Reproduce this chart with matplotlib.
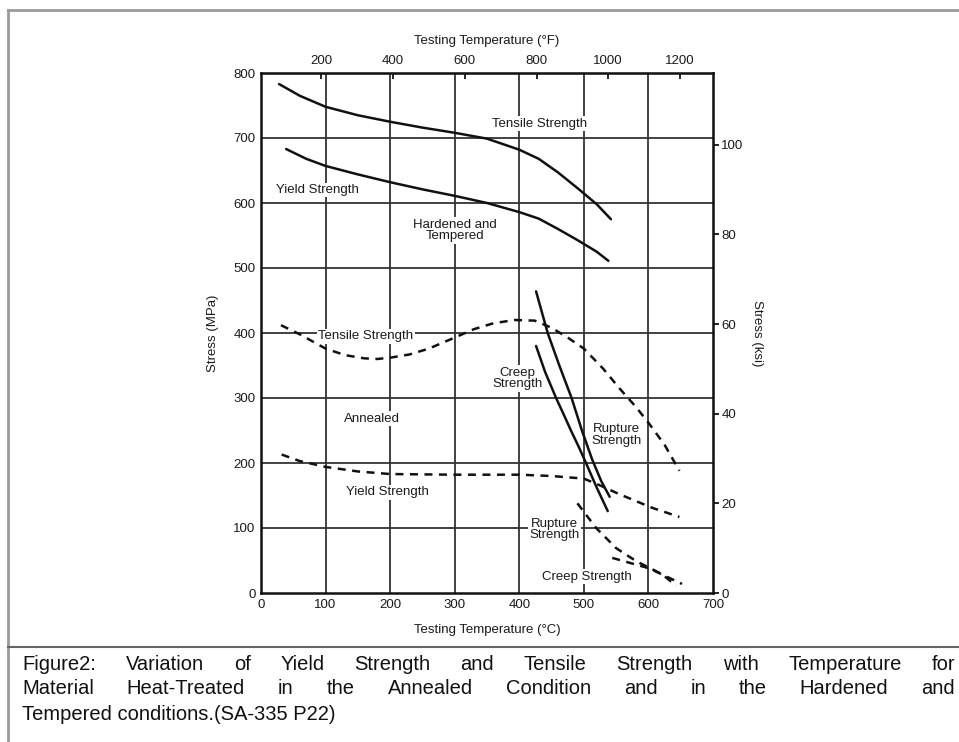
import matplotlib
matplotlib.use('Agg')
import matplotlib.pyplot as plt
from matplotlib.lines import Line2D

# Hardened and tempered (solid)
htTensileTemp = [28, 60, 100, 150, 200, 250, 300, 350, 400, 430, 460, 490, 520, 542]
htTensileStress = [783, 765, 748, 735, 725, 716, 708, 699, 682, 668, 647, 623, 598, 575]
htYieldTemp = [39, 70, 100, 150, 200, 250, 300, 350, 400, 430, 460, 490, 520, 538]
htYieldStress = [683, 668, 657, 644, 632, 621, 611, 600, 586, 576, 560, 543, 525, 511]
htRuptureTemp = [426, 435, 444, 462, 481, 497, 513, 527, 540]
htRuptureStress = [464, 432, 400, 350, 300, 250, 205, 172, 148]
htCreepTemp = [426, 440, 457, 470, 480, 492, 502, 520, 537]
htCreepStress = [380, 340, 300, 272, 250, 225, 203, 162, 126]

# Annealed (dashed)
anTensileTemp = [31, 60, 100, 130, 160, 180, 200, 230, 260, 300, 330, 360, 393, 424,
                 450, 475, 500, 530, 555, 580, 600, 625, 648]
anTensileStress = [412, 398, 376, 366, 361, 360, 362, 367, 376, 393, 406, 415, 420, 419,
                   408, 393, 376, 345, 315, 287, 262, 228, 188]
anYieldTemp = [32, 60, 100, 150, 200, 300, 400, 450, 500, 524, 555, 606, 648]
anYieldStress = [213, 203, 194, 187, 183, 182, 182, 180, 176, 166, 152, 131, 117]
anRuptureTemp = [490, 519, 550, 581, 621, 643]
anRuptureStress = [138, 100, 69, 49, 29, 11]
anCreepTemp = [544, 601, 652]
anCreepStress = [54, 38, 14]

xTicksC = [0, 100, 200, 300, 400, 500, 600, 700]
yTicksMPa = [0, 100, 200, 300, 400, 500, 600, 700, 800]
xTicksF = [200, 400, 600, 800, 1000, 1200]
yTicksKsi = [0, 20, 40, 60, 80, 100]

captionLines = ['Figure2: Variation of Yield Strength and Tensile Strength with Temperature for',
                'Material Heat-Treated in the Annealed Condition and in the Hardened and',
                'Tempered conditions.(SA-335 P22)']

W, H = 959, 742
fig = plt.figure(figsize=(W / 100, H / 100), dpi=100)
fig.patch.set_facecolor('white')

# Chart axes placed by pixel
left, right, top, bottom = 261, 713, 73, 593
ax = fig.add_axes([left / W, 1 - bottom / H, (right - left) / W, (bottom - top) / H])
ax.set_xlim(0, 700)
ax.set_ylim(0, 800)
font = 'Liberation Sans'
tickSize = 9.5
textColor = '#1a1a1a'

ax.set_xticks(xTicksC)
ax.set_yticks(yTicksMPa)
ax.tick_params(length=0, labelsize=tickSize, pad=4, labelcolor=textColor)
for lab in ax.get_xticklabels() + ax.get_yticklabels():
    lab.set_fontfamily(font)
for s in ax.spines.values():
    s.set_linewidth(1.8)
    s.set_color('#111')
for v in xTicksC[1:-1]:
    ax.axvline(v, color='#333', lw=1.3, zorder=0.5)
for v in yTicksMPa[1:-1]:
    ax.axhline(v, color='#333', lw=1.3, zorder=0.5)

ax.set_xlabel('Testing Temperature (°C)', fontsize=tickSize, fontfamily=font, labelpad=10, color=textColor)
ax.set_ylabel('Stress (MPa)', fontsize=tickSize, fontfamily=font, labelpad=10, color=textColor)

# Secondary axes
top_ax = ax.secondary_xaxis('top', functions=(lambda c: c * 9 / 5 + 32, lambda f: (f - 32) * 5 / 9))
top_ax.set_xticks(xTicksF)
top_ax.tick_params(direction='in', length=4, width=1.2, labelsize=tickSize, pad=4, labelcolor=textColor)
top_ax.set_xlabel('Testing Temperature (°F)', fontsize=tickSize, fontfamily=font, labelpad=8, color=textColor)
for lab in top_ax.get_xticklabels():
    lab.set_fontfamily(font)

right_ax = ax.secondary_yaxis('right', functions=(lambda m: m / 6.895, lambda k: k * 6.895))
right_ax.set_yticks(yTicksKsi)
right_ax.tick_params(direction='out', length=4, width=1.2, labelsize=tickSize, pad=2, labelcolor=textColor)
right_ax.set_ylabel('Stress (ksi)', fontsize=tickSize, fontfamily=font, rotation=-90, labelpad=14, color=textColor)
for lab in right_ax.get_yticklabels():
    lab.set_fontfamily(font)

# Curves
solid = dict(color='#111', lw=1.8, solid_capstyle='round', solid_joinstyle='round', zorder=3)
dashed = dict(color='#111', lw=1.8, linestyle=(0, (3.2, 2.6)), zorder=3)
ax.plot(htTensileTemp, htTensileStress, **solid)
ax.plot(htYieldTemp, htYieldStress, **solid)
ax.plot(htRuptureTemp, htRuptureStress, **solid)
ax.plot(htCreepTemp, htCreepStress, **solid)
ax.plot(anTensileTemp, anTensileStress, **dashed)
ax.plot(anYieldTemp, anYieldStress, **dashed)
ax.plot(anRuptureTemp, anRuptureStress, **dashed)
ax.plot(anCreepTemp, anCreepStress, **dashed)

# Curve labels
labels = [
    ('Tensile Strength', 431, 722),
    ('Yield Strength', 88, 620),
    ('Hardened and\nTempered', 300, 558),
    ('Tensile Strength', 162, 395),
    ('Creep\nStrength', 397, 330),
    ('Annealed', 172, 268),
    ('Rupture\nStrength', 551, 243),
    ('Yield Strength', 196, 155),
    ('Rupture\nStrength', 454, 98),
    ('Creep Strength', 505, 25),
]
for txt, x, y in labels:
    ax.text(x, y, txt, ha='center', va='center', fontsize=tickSize, fontfamily=font,
            linespacing=0.95, zorder=2, color=textColor,
            bbox=dict(fc='white', ec='none', pad=1))

# Frame lines
frameColor = '#9a9a9a'
fig.add_artist(Line2D([8 / W, 1], [1 - 10 / H, 1 - 10 / H], color=frameColor, lw=2))
fig.add_artist(Line2D([8 / W, 8 / W], [0, 1 - 10 / H], color=frameColor, lw=2))
fig.add_artist(Line2D([8 / W, 1], [1 - 647 / H, 1 - 647 / H], color='#666', lw=1.5))

# Caption, justified
capFont = 'Liberation Sans'
capSize = 14.5
capLeft, capRight = 22, 955
capY = [664, 689, 714]
renderer = fig.canvas.get_renderer()
for i, line in enumerate(captionLines):
    y = 1 - capY[i] / H
    if i == len(captionLines) - 1:
        fig.text(capLeft / W, y, line, fontsize=capSize, fontfamily=capFont, va='center', color='#111')
        continue
    words = line.split(' ')
    arts = [fig.text(0, y, w, fontsize=capSize, fontfamily=capFont, va='center', color='#111') for w in words]
    widths = [a.get_window_extent(renderer).width for a in arts]
    gap = (capRight - capLeft - sum(widths)) / (len(words) - 1)
    x = capLeft
    for a, w in zip(arts, widths):
        a.set_x(x / W)
        x += w + gap

plt.savefig('out.png', dpi=100)
